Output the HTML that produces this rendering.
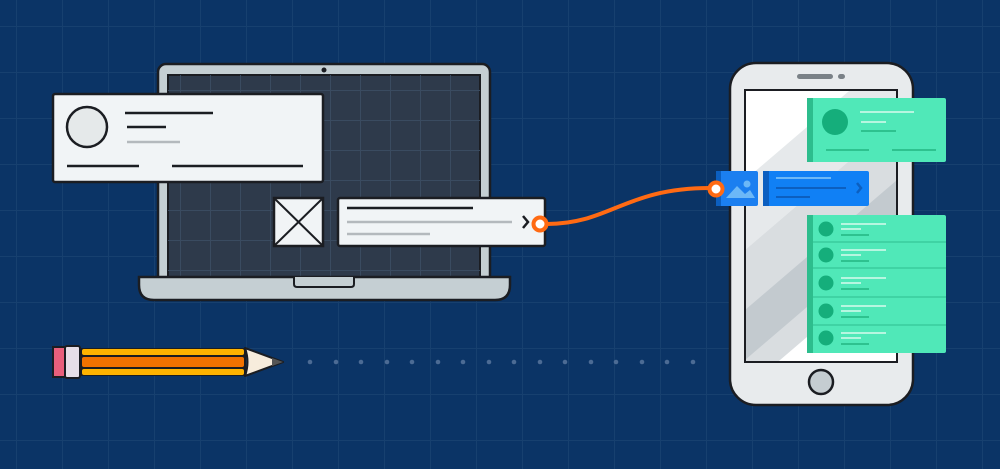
<!DOCTYPE html>
<html><head><style>html,body{margin:0;padding:0;background:#0b3466}svg{display:block}</style></head>
<body>
<svg width="1000" height="469" viewBox="0 0 1000 469" xmlns="http://www.w3.org/2000/svg">
<defs>
<pattern id="g" x="16" y="26" width="46" height="46" patternUnits="userSpaceOnUse">
<path d="M0 0V46M0 0H46" stroke="#17406f" stroke-width="2" fill="none"/>
</pattern>
<pattern id="sg" x="0" y="0" width="30" height="30" patternUnits="userSpaceOnUse">
<path d="M0 0V30M0 0H30" stroke="#3a4b60" stroke-width="2" fill="none"/>
</pattern>
<clipPath id="sc"><rect x="745" y="90" width="152" height="272"/></clipPath>
</defs>
<rect width="1000" height="469" fill="#0b3466"/>
<rect width="1000" height="469" fill="url(#g)"/>
<!-- laptop -->
<rect x="158" y="64" width="332" height="220" rx="8" fill="#c5cfd3" stroke="#1b1d22" stroke-width="2.5"/>
<rect x="168" y="75" width="312" height="205" fill="#2e3a4b" stroke="#1b1d22" stroke-width="2"/>
<rect x="168" y="75" width="312" height="205" fill="url(#sg)"/>
<circle cx="324" cy="70" r="2.5" fill="#1b1d22"/>
<path d="M139 277 H510 V285 Q510 300 495 300 H154 Q139 300 139 285 Z" fill="#c5cfd3" stroke="#1b1d22" stroke-width="2.5"/>
<path d="M294 277 V284 Q294 287 297 287 H351 Q354 287 354 284 V277" fill="#c5cfd3" stroke="#1b1d22" stroke-width="2"/>
<!-- card1 -->
<rect x="53" y="94" width="270" height="88" rx="2" fill="#f1f4f6" stroke="#1b1d22" stroke-width="2.5"/>
<circle cx="87" cy="127" r="20" fill="#e5e9ea" stroke="#1b1d22" stroke-width="2.5"/>
<g stroke-width="2.5"><line x1="125" y1="113" x2="213" y2="113" stroke="#1b1d22"/>
<line x1="127" y1="127" x2="166" y2="127" stroke="#1b1d22"/>
<line x1="127" y1="142" x2="180" y2="142" stroke="#b4b9bd"/>
<line x1="67" y1="166" x2="139" y2="166" stroke="#1b1d22"/>
<line x1="172" y1="166" x2="303" y2="166" stroke="#1b1d22"/></g>
<!-- image box -->
<rect x="274" y="198" width="49" height="48" fill="#f1f4f6" stroke="#1b1d22" stroke-width="2.5"/>
<path d="M275 199 L322 245 M322 199 L275 245" stroke="#1b1d22" stroke-width="2"/>
<!-- card2 -->
<rect x="338" y="198" width="207" height="48" rx="2" fill="#f1f4f6" stroke="#1b1d22" stroke-width="2.5"/>
<g stroke-width="2.5"><line x1="347" y1="208" x2="473" y2="208" stroke="#1b1d22"/>
<line x1="347" y1="222" x2="512" y2="222" stroke="#b4b9bd"/>
<line x1="347" y1="234" x2="430" y2="234" stroke="#b4b9bd"/></g>
<path d="M523 216 L528 222 L523 228" stroke="#1b1d22" stroke-width="2.5" fill="none"/>
<!-- phone -->
<rect x="730" y="63" width="183" height="342" rx="26" fill="#e8ebed" stroke="#1b1d22" stroke-width="2.5"/>
<rect x="797" y="74" width="36" height="5" rx="2.5" fill="#7a8187"/>
<rect x="838" y="74" width="7" height="5" rx="2.5" fill="#7a8187"/>
<rect x="745" y="90" width="152" height="272" fill="#ffffff" stroke="#1b1d22" stroke-width="2"/>
<g clip-path="url(#sc)">
<path d="M745 180 L897 50 V120 L745 250 Z" fill="#e6e9eb"/>
<path d="M745 250 L897 120 V260 L745 390 Z" fill="#d9dde0"/>
<path d="M745 310 L897 180 V230 L745 360 Z" fill="#c3cacf"/>
</g>
<rect x="745" y="90" width="152" height="272" fill="none" stroke="#1b1d22" stroke-width="2"/>
<circle cx="821" cy="382" r="12" fill="#c5cdd1" stroke="#1b1d22" stroke-width="2.5"/>
<!-- green card1 -->
<rect x="807" y="98" width="139" height="64" rx="2" fill="#50e8b8"/>
<rect x="807" y="98" width="6" height="64" fill="#2dbd8d"/>
<circle cx="835" cy="122" r="13" fill="#15ae7b"/>
<g stroke-width="2"><line x1="860" y1="112" x2="914" y2="112" stroke="#b6f6e0"/>
<line x1="861" y1="122" x2="886" y2="122" stroke="#b6f6e0"/>
<line x1="861" y1="131" x2="896" y2="131" stroke="#2ec28f"/>
<line x1="826" y1="150" x2="869" y2="150" stroke="#2ec28f"/>
<line x1="892" y1="150" x2="936" y2="150" stroke="#2ec28f"/></g>
<!-- green list -->
<rect x="807" y="215" width="139" height="138" rx="2" fill="#50e8b8"/>
<rect x="807" y="215" width="6" height="138" fill="#2dbd8d"/>
<g>
<line x1="813" y1="242" x2="946" y2="242" stroke="#3fd3a4" stroke-width="2"/>
<line x1="813" y1="268" x2="946" y2="268" stroke="#3fd3a4" stroke-width="2"/>
<line x1="813" y1="297" x2="946" y2="297" stroke="#3fd3a4" stroke-width="2"/>
<line x1="813" y1="325" x2="946" y2="325" stroke="#3fd3a4" stroke-width="2"/>
</g>
<g fill="#15ae7b"><circle cx="826" cy="229" r="7.5"/><circle cx="826" cy="255" r="7.5"/><circle cx="826" cy="283" r="7.5"/><circle cx="826" cy="311" r="7.5"/><circle cx="826" cy="338" r="7.5"/></g>
<g stroke-width="2">
<g transform="translate(0,0)"><line x1="841" y1="224" x2="886" y2="224" stroke="#b6f6e0"/><line x1="841" y1="229" x2="861" y2="229" stroke="#b6f6e0"/><line x1="841" y1="235" x2="869" y2="235" stroke="#2ec28f"/></g>
<g transform="translate(0,26)"><line x1="841" y1="224" x2="886" y2="224" stroke="#b6f6e0"/><line x1="841" y1="229" x2="861" y2="229" stroke="#b6f6e0"/><line x1="841" y1="235" x2="869" y2="235" stroke="#2ec28f"/></g>
<g transform="translate(0,54)"><line x1="841" y1="224" x2="886" y2="224" stroke="#b6f6e0"/><line x1="841" y1="229" x2="861" y2="229" stroke="#b6f6e0"/><line x1="841" y1="235" x2="869" y2="235" stroke="#2ec28f"/></g>
<g transform="translate(0,82)"><line x1="841" y1="224" x2="886" y2="224" stroke="#b6f6e0"/><line x1="841" y1="229" x2="861" y2="229" stroke="#b6f6e0"/><line x1="841" y1="235" x2="869" y2="235" stroke="#2ec28f"/></g>
<g transform="translate(0,109)"><line x1="841" y1="224" x2="886" y2="224" stroke="#b6f6e0"/><line x1="841" y1="229" x2="861" y2="229" stroke="#b6f6e0"/><line x1="841" y1="235" x2="869" y2="235" stroke="#2ec28f"/></g>
</g>
<!-- blue tiles -->
<rect x="716" y="171" width="42" height="35" rx="2" fill="#1b7ff0"/>
<rect x="716" y="171" width="5" height="35" fill="#0c5fc0"/>
<circle cx="747" cy="184" r="3.5" fill="#6cb8f7"/>
<path d="M726 198 L737 186 L745 194 L750 190 L755 198 Z" fill="#6cb8f7"/>
<rect x="763" y="171" width="106" height="35" rx="2" fill="#1080f5"/>
<rect x="763" y="171" width="6" height="35" fill="#0c5fc0"/>
<g stroke-width="2"><line x1="776" y1="178" x2="831" y2="178" stroke="#6cb8f7"/>
<line x1="776" y1="188" x2="846" y2="188" stroke="#0c5fc0"/>
<line x1="776" y1="197" x2="810" y2="197" stroke="#0c5fc0"/></g>
<path d="M857 183 L861 188 L857 193" stroke="#0c5fc0" stroke-width="2.5" fill="none"/>
<!-- connector -->
<path d="M547 224 C 610 224 625 188 710 188" stroke="#ff6a13" stroke-width="4" fill="none"/>
<circle cx="540" cy="224" r="6.5" fill="#fff" stroke="#ff6a13" stroke-width="4"/>
<circle cx="716" cy="189" r="6.5" fill="#fff" stroke="#ff6a13" stroke-width="4"/>
<!-- pencil -->
<rect x="53" y="347" width="13" height="30" fill="#e85f7c" stroke="#1b1d22" stroke-width="2"/>
<rect x="65" y="346" width="15" height="32" rx="2" fill="#e6dfe8" stroke="#1b1d22" stroke-width="2"/>
<rect x="80" y="348" width="166" height="28" fill="#1b1d22"/>
<rect x="82" y="349" width="162" height="6" rx="2" fill="#ffb300"/>
<rect x="82" y="357" width="162" height="10" rx="2" fill="#f27200"/>
<rect x="82" y="369" width="162" height="6" rx="2" fill="#ffb300"/>
<path d="M245 348 L283 362 L245 376 Q250 362 245 348 Z" fill="#f7ecdc" stroke="#1b1d22" stroke-width="2" stroke-linejoin="round"/>
<path d="M272 358 L283 362 L272 366 Z" fill="#555"/>
<g fill="#4c6b94">
<circle cx="310" cy="362" r="2.3"/><circle cx="336" cy="362" r="2.3"/><circle cx="361" cy="362" r="2.3"/><circle cx="387" cy="362" r="2.3"/><circle cx="412" cy="362" r="2.3"/><circle cx="438" cy="362" r="2.3"/><circle cx="463" cy="362" r="2.3"/><circle cx="489" cy="362" r="2.3"/><circle cx="514" cy="362" r="2.3"/><circle cx="540" cy="362" r="2.3"/><circle cx="565" cy="362" r="2.3"/><circle cx="591" cy="362" r="2.3"/><circle cx="616" cy="362" r="2.3"/><circle cx="642" cy="362" r="2.3"/><circle cx="667" cy="362" r="2.3"/><circle cx="693" cy="362" r="2.3"/>
</g>
</svg>
</body></html>
